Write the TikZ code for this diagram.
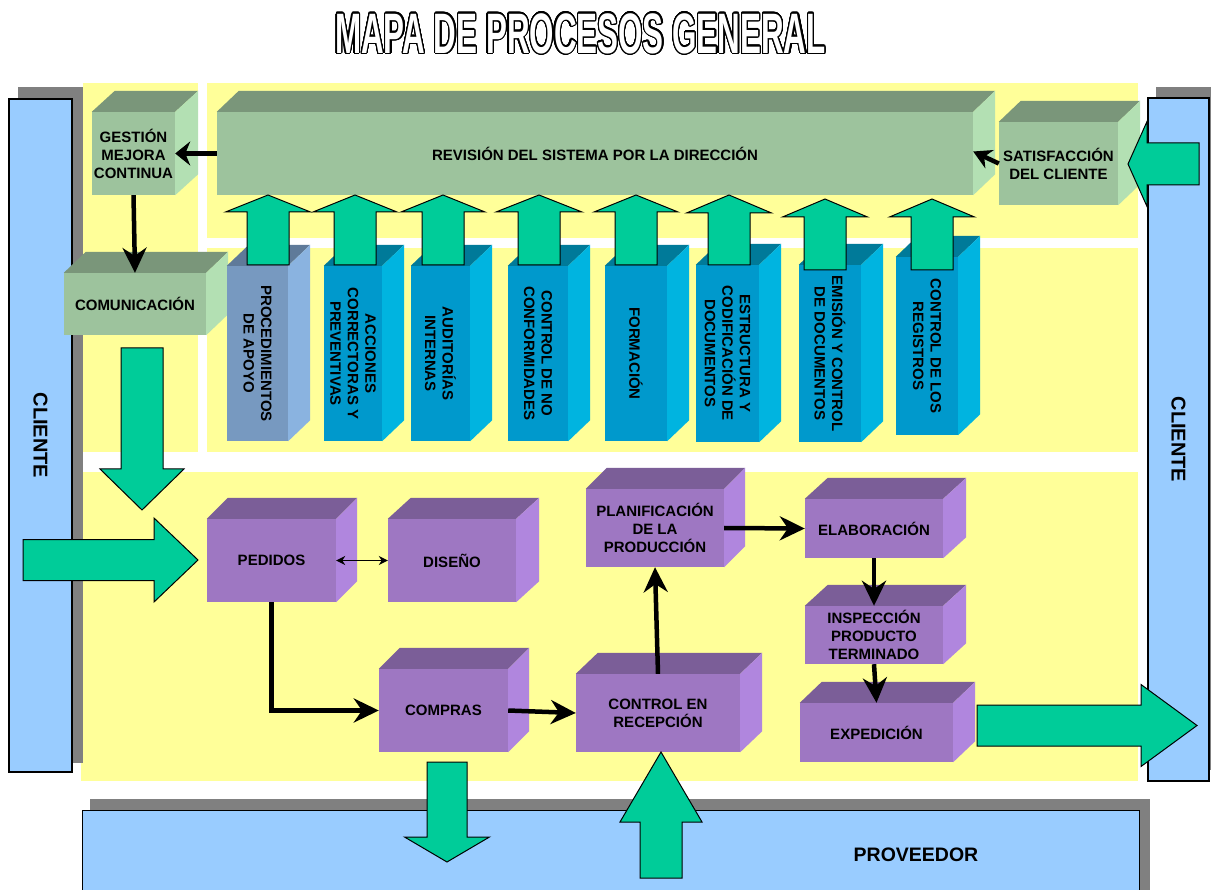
\documentclass[tikz,border=0pt]{standalone}
\usepackage{fontspec}
\setmainfont{Liberation Sans}
\newfontfamily\titlefont[FakeStretch=0.55]{Liberation Sans}
\usepackage[copies]{contour}
\contourlength{1.2pt}
\contournumber{32}
\usetikzlibrary{arrows.meta}

\definecolor{ybg}{HTML}{FFFF99}
\definecolor{cliblue}{HTML}{99CCFF}
\definecolor{shadowgray}{HTML}{808080}
\definecolor{garrow}{HTML}{00CC99}
\definecolor{gfront}{HTML}{9DC39D}
\definecolor{gtop}{HTML}{7A967A}
\definecolor{gside}{HTML}{B3E0B3}
\definecolor{pfront}{HTML}{9E77C2}
\definecolor{ptop}{HTML}{7B5E98}
\definecolor{pside}{HTML}{B086DE}
\definecolor{cfront}{HTML}{0099CC}
\definecolor{ctop}{HTML}{007A99}
\definecolor{cside}{HTML}{00B4E0}
\definecolor{afront}{HTML}{7799C0}
\definecolor{atop}{HTML}{5F7A99}
\definecolor{aside}{HTML}{8AB3E0}

\newcommand\boxfont{\bfseries\fontsize{15}{18}\selectfont}
% 3D faces of a box: name, top colour, side colour, dx, dy
\newcommand\boxfaces[5]{%
  \fill[#2] (#1.north west) -- ++(#4,-#5) -- ([shift={(#4,-#5)}]#1.north east) -- (#1.north east) -- cycle;
  \fill[#3] (#1.north east) -- ++(#4,-#5) -- ([shift={(#4,-#5)}]#1.south east) -- (#1.south east) -- cycle;
}
% vertical block arrow: cx, ytail, ybase, ytip, shaft half width, head half width
\newcommand\gvarrow[6]{%
  \filldraw[bigarrow] ({#1-#5},#2) -- ({#1-#5},#3) -- ({#1-#6},#3) -- (#1,#4) -- ({#1+#6},#3) -- ({#1+#5},#3) -- ({#1+#5},#2) -- cycle;
}
% horizontal block arrow: cy, xtail, xbase, xtip, shaft half width, head half width
\newcommand\gharrow[6]{%
  \filldraw[bigarrow] (#2,{#1-#5}) -- (#3,{#1-#5}) -- (#3,{#1-#6}) -- (#4,#1) -- (#3,{#1+#6}) -- (#3,{#1+#5}) -- (#2,{#1+#5}) -- cycle;
}

\begin{document}
\begin{tikzpicture}[x=1pt,y=-1pt,
  sz/.style 2 args={minimum width=#1pt, minimum height=#2pt},
  front/.style={inner sep=0pt, align=center, font=\boxfont},
  gbox/.style={front, fill=gfront},
  pbox/.style={front, fill=pfront},
  cbox/.style={front, fill=cfront},
  abox/.style={front, fill=afront},
  coltext/.style={rotate=-90, align=center, inner sep=0pt, font=\bfseries\fontsize{15}{17.5}\selectfont},
  bar/.style={draw=black, line width=1.2pt, fill=cliblue, inner sep=0pt, font=\bfseries\fontsize{20}{24}\selectfont},
  bigarrow/.style={fill=garrow, draw=black, line width=1pt, line join=miter},
  conn/.style={draw=black, line width=4.5pt, -{Stealth[length=25pt,width=24pt]}},
  thinconn/.style={draw=black, line width=1.3pt, {Stealth[length=9pt,width=9pt]}-{Stealth[length=9pt,width=9pt]}},
]
\clip (0,0) rectangle (1211,890);
\fill[white] (0,0) rectangle (1211,890);

% title
\node[inner sep=0pt, font=\titlefont\bfseries\fontsize{57}{60}\selectfont] (title) at (580.5,34)
  {\contour{black}{\textcolor{white}{MAPA DE PROCESOS GENERAL}}};

% yellow areas
\fill[ybg] (83,83) rectangle (198,452);
\fill[ybg] (207,83) rectangle (1138,238);
\fill[ybg] (207,248) rectangle (1138,452);
\fill[ybg] (81,472) rectangle (1138,781);

% shadows
\fill[shadowgray] (18,87) rectangle (83,763);
\fill[shadowgray] (1156,87) rectangle (1220,770);
\fill[shadowgray] (90,799) rectangle (1150,900);

% client / supplier bars
\node[bar, rotate=-90, sz={673}{63}] (clil) at (40.5,435.5) {CLIENTE};
\node[bar, rotate=-90, sz={683}{61}] (clir) at (1178.5,439.5) {CLIENTE};
\node[bar, sz={1057}{140}, anchor=north west] (prov) at (82,810) {};
\node[inner sep=0pt, font=\bfseries\fontsize{19.5}{24}\selectfont] (provlabel) at (916,855) {PROVEEDOR};

% green boxes
\node[gbox, sz={83}{83}] (gest) at (133.5,153.5) {GESTIÓN\\MEJORA\\CONTINUA};
\boxfaces{gest}{gtop}{gside}{23}{21}
\node[gbox, sz={142}{62}] (com) at (135,304) {COMUNICACIÓN};
\boxfaces{com}{gtop}{gside}{22}{21}
\node[gbox, sz={756}{83}] (rev) at (595,153.5) {REVISIÓN DEL SISTEMA POR LA DIRECCIÓN};
\boxfaces{rev}{gtop}{gside}{22}{21}
\node[gbox, sz={119}{83}] (sat) at (1058.5,163.5) {SATISFACCIÓN\\DEL CLIENTE};
\boxfaces{sat}{gtop}{gside}{22}{21}

% support process columns
\node[abox, sz={61}{175}] (c1) at (257.5,353.5) {};
\boxfaces{c1}{atop}{aside}{22}{21}
\node[coltext] (c1t) at (c1) {PROCEDIMIENTOS\\DE APOYO};
\node[cbox, sz={58}{175}] (c2) at (353,353.5) {};
\boxfaces{c2}{ctop}{cside}{22}{21}
\node[coltext] (c2t) at (c2) {ACCIONES\\CORRECTORAS Y\\PREVENTIVAS};
\node[cbox, sz={59}{175}] (c3) at (440.5,353.5) {};
\boxfaces{c3}{ctop}{cside}{22}{21}
\node[coltext] (c3t) at (c3) {AUDITORÍAS\\INTERNAS};
\node[cbox, sz={60}{175}] (c4) at (538,353.5) {};
\boxfaces{c4}{ctop}{cside}{22}{21}
\node[coltext] (c4t) at (c4) {CONTROL DE NO\\CONFORMIDADES};
\node[cbox, sz={62}{175}] (c5) at (636,353.5) {};
\boxfaces{c5}{ctop}{cside}{22}{21}
\node[coltext] (c5t) at (c5) {FORMACIÓN};
\node[cbox, sz={63}{177}] (c6) at (727.5,353.5) {};
\boxfaces{c6}{ctop}{cside}{22}{21}
\node[coltext] (c6t) at (c6) {ESTRUCTURA Y\\CODIFICACIÓN DE\\DOCUMENTOS};
\node[cbox, sz={62}{177}] (c7) at (830,353.5) {};
\boxfaces{c7}{ctop}{cside}{22}{21}
\node[coltext] (c7t) at (c7) {EMISIÓN Y CONTROL\\DE DOCUMENTOS};
\node[cbox, sz={62}{178}] (c8) at (927,346) {};
\boxfaces{c8}{ctop}{cside}{22}{21}
\node[coltext] (c8t) at (c8) {CONTROL DE LOS\\REGISTROS};

% purple process boxes
\node[pbox, sz={129}{83}] (ped) at (271.5,560.5) {PEDIDOS};
\boxfaces{ped}{ptop}{pside}{21}{21}
\node[pbox, sz={128}{83}] (dis) at (452,560.5) {DISEÑO};
\boxfaces{dis}{ptop}{pside}{23}{21}
\node[pbox, sz={129}{83}] (comp) at (443.5,710.5) {COMPRAS};
\boxfaces{comp}{ptop}{pside}{21}{21}
\node[pbox, sz={138}{78}] (plan) at (655,528) {PLANIFICACIÓN\\DE LA\\PRODUCCIÓN};
\boxfaces{plan}{ptop}{pside}{21}{21}
\node[pbox, sz={138}{59}] (elab) at (874,528.5) {ELABORACIÓN};
\boxfaces{elab}{ptop}{pside}{23}{21}
\node[pbox, sz={138}{58}] (insp) at (874,635) {INSPECCIÓN\\PRODUCTO\\TERMINADO};
\boxfaces{insp}{ptop}{pside}{23}{21}
\node[pbox, sz={164}{78}] (rec) at (658,713) {CONTROL EN\\RECEPCIÓN};
\boxfaces{rec}{ptop}{pside}{22}{21}
\node[pbox, sz={153}{59}] (exp) at (876.5,732.5) {EXPEDICIÓN};
\boxfaces{exp}{ptop}{pside}{22}{21}

% black connectors
\draw[draw=black, line width=4.5pt, -{Stealth[length=15pt,width=24pt]}] (rev.west) -- (gest.east);
\draw[conn] (gest.south) -- (com.north);
\draw[draw=black, line width=4.5pt, -{Stealth[length=18pt,width=20pt]}] (sat.west) -- ([yshift=2pt]rev.east);
\draw[thinconn] (ped.east) -- (dis.west);
\draw[conn] (ped.south) |- (comp.west);
\draw[conn] (comp.east) -- (rec.west);
\draw[conn] (rec.north) -- (plan.south);
\draw[conn] (plan.east) -- (elab.west);
\draw[conn] (elab.south) -- (insp.north);
\draw[conn] (insp.south) -- (exp.north);

% green block arrows: support processes up to the review
\gvarrow{268}{265}{212}{195}{21}{42.5}
\gvarrow{355}{265}{212}{195}{21}{42}
\gvarrow{443}{265}{212}{195}{21}{42}
\gvarrow{539}{265}{212}{195}{21}{43}
\gvarrow{636}{265}{212}{195}{21}{42}
\gvarrow{729}{265}{213}{195}{21}{42.5}
\gvarrow{825}{270}{217}{199}{21}{42.5}
\gvarrow{932}{270}{217}{199}{21}{42.5}

% other block arrows
\gvarrow{142}{348}{469}{510}{21}{42}
\gharrow{560}{23}{154}{198}{20.5}{42}
\gharrow{164}{1199}{1147}{1128}{21}{42.5}
\gharrow{725.5}{977}{1141}{1197}{20.5}{41}
\gvarrow{447}{762}{837}{862}{20}{42.5}
\gvarrow{661}{878}{822}{752}{21}{41}
\end{tikzpicture}
\end{document}
